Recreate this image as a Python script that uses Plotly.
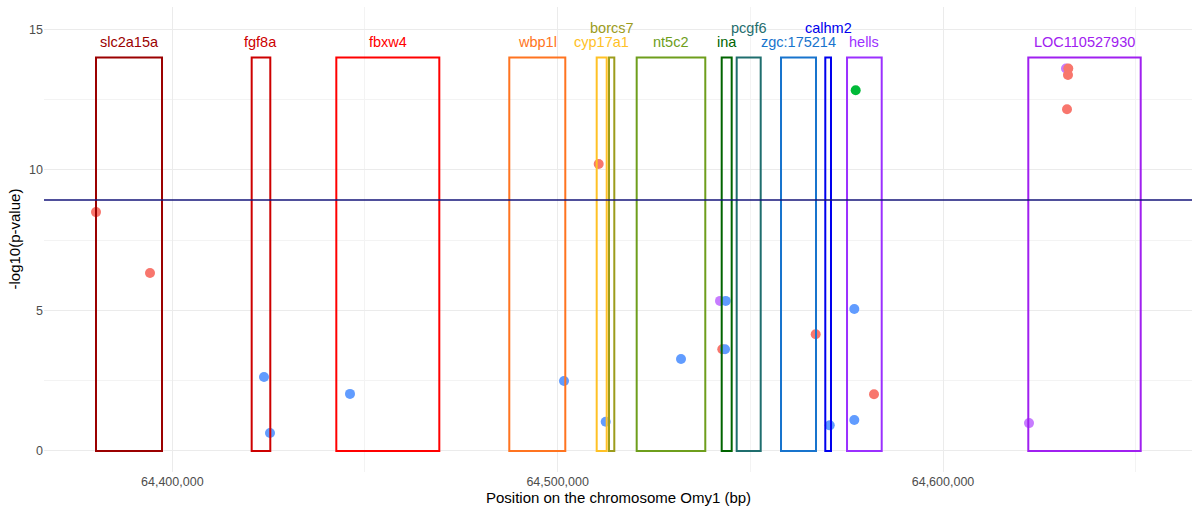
import plotly.graph_objects as go

# ---- Genes (rectangles) ----
genes = ["slc2a15a", "fgf8a", "fbxw4", "wbp1l", "cyp17a1", "borcs7", "nt5c2",
         "ina", "pcgf6", "zgc:175214", "calhm2", "hells", "LOC110527930"]
gene_start = [64380200, 64420600, 64442560, 64487450, 64510130, 64513320, 64520510,
              64542570, 64546460, 64557960, 64569450, 64575090, 64622130]
gene_end = [64397330, 64425430, 64469290, 64501980, 64512730, 64514700, 64538310,
            64545160, 64552690, 64567040, 64570930, 64584090, 64651300]
gene_top = [14] * len(genes)
label_y = [14.55, 14.55, 14.55, 14.55, 14.55, 15.05, 14.55,
           14.55, 15.05, 14.55, 15.05, 14.55, 14.55]
gene_colors = ["#9B0000", "#CD0000", "#FF0000", "#FF7420", "#FFC125", "#9C9C1C", "#6E9E1C",
               "#006400", "#1F6E6E", "#1874CD", "#0000EE", "#9B30FF", "#A020F0"]

# ---- SNPs ----
snp_pos = [64380200, 64394210, 64423800, 64425350, 64446110, 64501650, 64510650,
           64512470, 64532010, 64542130, 64543610, 64542725, 64543430, 64566960,
           64570600, 64577340, 64576980, 64576980, 64582090, 64622310, 64631915,
           64632510, 64632430, 64632175]
snp_logp = [8.50, 6.33, 2.63, 0.64, 2.03, 2.49, 10.21,
            1.04, 3.27, 5.34, 5.34, 3.62, 3.62, 4.15,
            0.91, 12.84, 5.05, 1.10, 2.02, 0.99, 13.61,
            13.61, 13.38, 12.16]
snp_group = ["red", "red", "blue", "blue", "blue", "blue", "red",
             "blue", "blue", "purple", "blue", "red", "blue", "red",
             "blue", "green", "blue", "blue", "red", "purple", "purple",
             "red", "red", "red"]
group_order = ["purple", "red", "blue", "green"]
group_colors = {"red": "#F8766D", "blue": "#619CFF", "green": "#00BA38", "purple": "#C77CFF"}

threshold = 8.93

x_tickvals = [64400000, 64500000, 64600000]
x_ticktext = ["64,400,000", "64,500,000", "64,600,000"]
y_tickvals = [0, 5, 10, 15]

FONT = "Liberation Sans, Arial, sans-serif"

fig = go.Figure()

# gene rectangles
for g, s, e, t, c in zip(genes, gene_start, gene_end, gene_top, gene_colors):
    fig.add_shape(type="rect", xref="x", yref="y", x0=s, x1=e, y0=0, y1=t,
                  line=dict(color=c, width=2), fillcolor="rgba(0,0,0,0)", layer="above")

# threshold line
fig.add_shape(type="line", xref="paper", yref="y", x0=0, x1=1, y0=threshold, y1=threshold,
              line=dict(color="#14147A", width=1.3), layer="above")

# points
for grp in group_order:
    xs = [p for p, g in zip(snp_pos, snp_group) if g == grp]
    ys = [v for v, g in zip(snp_logp, snp_group) if g == grp]
    fig.add_trace(go.Scatter(x=xs, y=ys, mode="markers",
                             marker=dict(color=group_colors[grp], size=10, line=dict(width=0)),
                             showlegend=False, hoverinfo="x+y"))

# gene labels
for g, s, e, ly, c in zip(genes, gene_start, gene_end, label_y, gene_colors):
    fig.add_annotation(x=(s + e) / 2, y=ly, xref="x", yref="y", text=g, showarrow=False,
                       font=dict(family=FONT, size=14.5, color=c), xanchor="center", yanchor="middle")

# axis titles
fig.add_annotation(x=0.5, y=0, xref="paper", yref="paper", text="Position on the chromosome Omy1 (bp)",
                   showarrow=False, yshift=-25, yanchor="middle",
                   font=dict(family=FONT, size=15, color="black"))
fig.add_annotation(x=0, y=0.5, xref="paper", yref="paper", text="-log10(p-value)",
                   showarrow=False, xshift=-30, xanchor="center", textangle=-90,
                   font=dict(family=FONT, size=15, color="black"))

fig.update_layout(
    width=1196, height=510,
    margin=dict(l=44, r=4, t=7, b=38),
    plot_bgcolor="white", paper_bgcolor="white",
    font=dict(family=FONT),
    xaxis=dict(range=[64366706, 64664612], tickvals=x_tickvals, ticktext=x_ticktext,
               showgrid=True, gridcolor="#EBEBEB", gridwidth=1.1, zeroline=False,
               showline=False, ticks="", tickfont=dict(size=12.5, color="#4D4D4D"),
               minor=dict(tickvals=[64450000, 64550000, 64650000], showgrid=True,
                          gridcolor="#F3F3F3", gridwidth=1)),
    yaxis=dict(range=[-0.75, 15.8], tickvals=y_tickvals,
               showgrid=True, gridcolor="#EBEBEB", gridwidth=1.1, zeroline=False,
               showline=False, ticks="", tickfont=dict(size=12.5, color="#4D4D4D"),
               minor=dict(tickvals=[2.5, 7.5, 12.5], showgrid=True,
                          gridcolor="#F3F3F3", gridwidth=1)),
)

fig.write_html("out.html", config={"displayModeBar": False},
               post_script="document.body.style.margin='0';")
